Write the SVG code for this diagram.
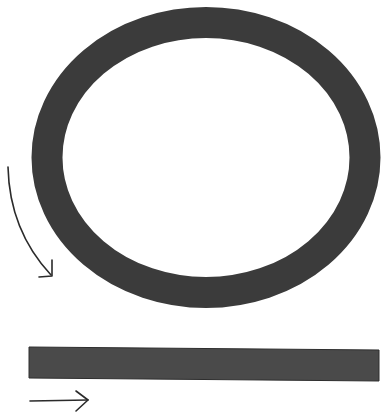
<svg xmlns="http://www.w3.org/2000/svg" width="383" height="419" viewBox="0 0 383 419">
<style>
.arrow{fill:none;stroke:#2b2b2b;stroke-width:1.6;stroke-linecap:round;stroke-linejoin:round}
</style>
<rect width="383" height="419" fill="#ffffff"/>
<g id="ring">
<ellipse cx="206" cy="157.5" rx="159" ry="135" fill="none" stroke="#3b3b3b" stroke-width="31"/>
</g>
<g id="bar">
<polygon points="29,347 379,350 379,381 29,378" fill="#4a4a4a" stroke="#2e2e2e" stroke-width="1"/>
</g>
<g id="connectors">
<path class="arrow" d="M8,167 C9,210 24,246 51,275"/>
<path class="arrow" d="M52,260 L52,276 L39,277"/>
<path class="arrow" d="M30,401 L88,400"/>
<path class="arrow" d="M76,391 L88,400 L76,411"/>
</g>
</svg>
